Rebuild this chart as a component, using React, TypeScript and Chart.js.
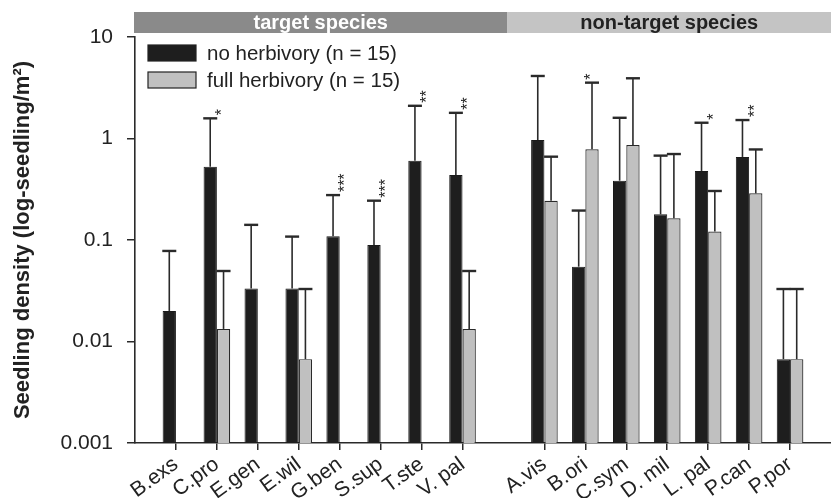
import React, { useEffect, useRef } from "react";
import { Chart, registerables } from "chart.js";

Chart.register(...registerables);

// ---- data ----
const categories = ["", "B.exs", "C.pro", "E.gen", "E.wil", "G.ben", "S.sup", "T.ste", "V. pal", "", "A.vis", "B.ori", "C.sym", "D. mil", "L. pal", "P.can", "P.por", ""];
const noHerbivory = [null, 0.02, 0.527, 0.0333, 0.0333, 0.109, 0.0893, 0.605, 0.436, null, 0.966, 0.0546, 0.384, 0.179, 0.479, 0.658, 0.0067, null];
const noHerbivoryUpper = [null, 0.078, 1.58, 0.141, 0.108, 0.277, 0.244, 2.1, 1.79, null, 4.13, 0.195, 1.6, 0.678, 1.43, 1.52, 0.0329, null];
const fullHerbivory = [null, null, 0.0133, null, 0.0067, null, null, null, 0.0133, null, 0.244, 0.782, 0.863, 0.164, 0.121, 0.288, 0.0067, null];
const fullHerbivoryUpper = [null, null, 0.0495, null, 0.0329, null, null, null, 0.0495, null, 0.662, 3.55, 3.92, 0.703, 0.304, 0.78, 0.0329, null];
const significance = ["", "", "*", "", "", "***", "***", "**", "**", "", "", "*", "", "", "*", "**", "", ""];
const yTickValues = [0.001, 0.01, 0.1, 1, 10];
const yTickLabels = ["0.001", "0.01", "0.1", "1", "10"];
const groupLabels = ["target species", "non-target species"];
const groupSplitIndex = 9;
const seriesLabels = ["no herbivory (n = 15)", "full herbivory (n = 15)"];

const FONT = "'Liberation Sans', Arial, Helvetica, sans-serif";
const TEXT = "#222";

const errorBarPlugin = {
  id: "errorBars",
  afterDatasetsDraw(chart: any) {
    const ctx = chart.ctx;
    const yScale = chart.scales.y;
    chart.data.datasets.forEach((ds: any, i: number) => {
      const meta = chart.getDatasetMeta(i);
      meta.data.forEach((el: any, j: number) => {
        const up = ds.errorUp[j];
        const v = ds.data[j];
        if (up == null || v == null) return;
        const x = el.x;
        const y0 = el.y;
        const y1 = yScale.getPixelForValue(up);
        ctx.save();
        ctx.strokeStyle = "#2a2a2a";
        ctx.lineWidth = 1.6;
        ctx.beginPath();
        ctx.moveTo(x, y0);
        ctx.lineTo(x, y1);
        ctx.stroke();
        ctx.lineWidth = 2.4;
        ctx.beginPath();
        ctx.moveTo(x - 7, y1);
        ctx.lineTo(x + 7, y1);
        ctx.stroke();
        ctx.restore();
      });
    });
    // significance stars
    const xScale = chart.scales.x;
    significance.forEach((s, j) => {
      if (!s) return;
      const ups = chart.data.datasets.map((ds: any) => ds.errorUp[j]).filter((u: any) => u != null);
      const top = Math.min(...ups.map((u: number) => yScale.getPixelForValue(u)));
      const x = xScale.getPixelForValue(j) + 6;
      ctx.save();
      ctx.translate(x, top - 3);
      ctx.rotate(-Math.PI / 2);
      ctx.fillStyle = TEXT;
      ctx.font = `16px ${FONT}`;
      ctx.textAlign = "left";
      ctx.textBaseline = "middle";
      ctx.fillText(s, 0, 0);
      ctx.restore();
    });
  },
};

const headerPlugin = {
  id: "header",
  afterDraw(chart: any) {
    const ctx = chart.ctx;
    const area = chart.chartArea;
    const xScale = chart.scales.x;
    const split = xScale.getPixelForValue(groupSplitIndex) + 4;
    const left = area.left - 1;
    const right = chart.width;
    const top = 12;
    const h = 21;
    ctx.save();
    ctx.fillStyle = "#8a8a8a";
    ctx.fillRect(left, top, split - left, h);
    ctx.fillStyle = "#c4c4c4";
    ctx.fillRect(split, top, right - split, h);
    ctx.font = `bold 20px ${FONT}`;
    ctx.textAlign = "center";
    ctx.textBaseline = "middle";
    ctx.fillStyle = "#ffffff";
    ctx.fillText(groupLabels[0], (left + split) / 2, top + h / 2 + 1);
    ctx.fillStyle = TEXT;
    ctx.fillText(groupLabels[1], (split + right) / 2, top + h / 2 + 1);
    ctx.restore();
  },
};

const legendPlugin = {
  id: "customLegend",
  afterDraw(chart: any) {
    const ctx = chart.ctx;
    const x = chart.chartArea.left + 13;
    const y0 = 45;
    ctx.save();
    chart.data.datasets.forEach((ds: any, i: number) => {
      const y = y0 + i * 27;
      ctx.fillStyle = ds.backgroundColor;
      ctx.fillRect(x, y, 48, 16);
      ctx.strokeStyle = "#222";
      ctx.lineWidth = 1.2;
      ctx.strokeRect(x, y, 48, 16);
      ctx.fillStyle = TEXT;
      ctx.font = `20.5px ${FONT}`;
      ctx.textAlign = "left";
      ctx.textBaseline = "middle";
      ctx.fillText(ds.label, x + 59, y + 9);
    });
    ctx.restore();
  },
};

export default function App() {
  const ref = useRef<HTMLCanvasElement>(null);
  useEffect(() => {
    document.body.style.margin = "0";
    const chart = new Chart(ref.current!, {
      type: "bar",
      data: {
        labels: categories,
        datasets: [
          {
            label: seriesLabels[0],
            data: noHerbivory,
            errorUp: noHerbivoryUpper,
            backgroundColor: "#1e1e1e",
            borderColor: "#1a1a1a",
            borderWidth: 1,
            categoryPercentage: 0.65,
            barPercentage: 1,
          } as any,
          {
            label: seriesLabels[1],
            data: fullHerbivory,
            errorUp: fullHerbivoryUpper,
            backgroundColor: "#c0c0c0",
            borderColor: "#2a2a2a",
            borderWidth: 1.2,
            categoryPercentage: 0.65,
            barPercentage: 1,
          } as any,
        ],
      },
      options: {
        animation: false,
        responsive: false,
        layout: { padding: { top: 37, right: 0, left: 0, bottom: 0 } },
        plugins: {
          legend: { display: false },
          tooltip: { enabled: false },
        },
        scales: {
          x: {
            type: "category",
            offset: false,
            grid: {
              offset: false,
              drawOnChartArea: false,
              drawTicks: true,
              tickLength: 7,
              lineWidth: 1.5,
              color: (c: any) => (categories[c.index] ? "#2a2a2a" : "rgba(0,0,0,0)"),
            },
            border: { display: true, color: "#2a2a2a", width: 1.6 },
            ticks: {
              autoSkip: false,
              maxRotation: 36,
              minRotation: 36,
              padding: 2,
              color: TEXT,
              font: { family: FONT, size: 21 },
            },
            afterFit: (s: any) => {
              s.height = 55;
              s.paddingLeft = 0;
              s.paddingRight = 0;
            },
          },
          y: {
            type: "logarithmic",
            min: 0.001,
            max: 10,
            grid: {
              drawOnChartArea: false,
              drawTicks: true,
              tickLength: 8,
              lineWidth: 1.5,
              color: "#2a2a2a",
            },
            border: { display: true, color: "#2a2a2a", width: 1.6 },
            afterBuildTicks: (s: any) => {
              s.ticks = yTickValues.map((v) => ({ value: v }));
            },
            ticks: {
              padding: 14,
              color: TEXT,
              font: { family: FONT, size: 21 },
              callback: (v: any) => {
                const i = yTickValues.findIndex((t) => Math.abs(t - Number(v)) < t * 1e-6);
                return i >= 0 ? yTickLabels[i] : "";
              },
            },
            title: {
              display: true,
              text: "Seedling density (log-seedling/m²)",
              color: TEXT,
              font: { family: FONT, size: 22, weight: "bold" },
              padding: { top: 10, bottom: 0 },
            },
            afterFit: (s: any) => {
              s.width = 135;
              s.paddingTop = 0;
              s.paddingBottom = 0;
            },
          },
        },
      } as any,
      plugins: [errorBarPlugin, headerPlugin, legendPlugin],
    });
    return () => chart.destroy();
  }, []);
  return (
    <div style={{ position: "fixed", left: 0, top: 0, width: 831, height: 498 }}>
      <canvas ref={ref} width={831} height={498} style={{ display: "block" }} />
    </div>
  );
}
